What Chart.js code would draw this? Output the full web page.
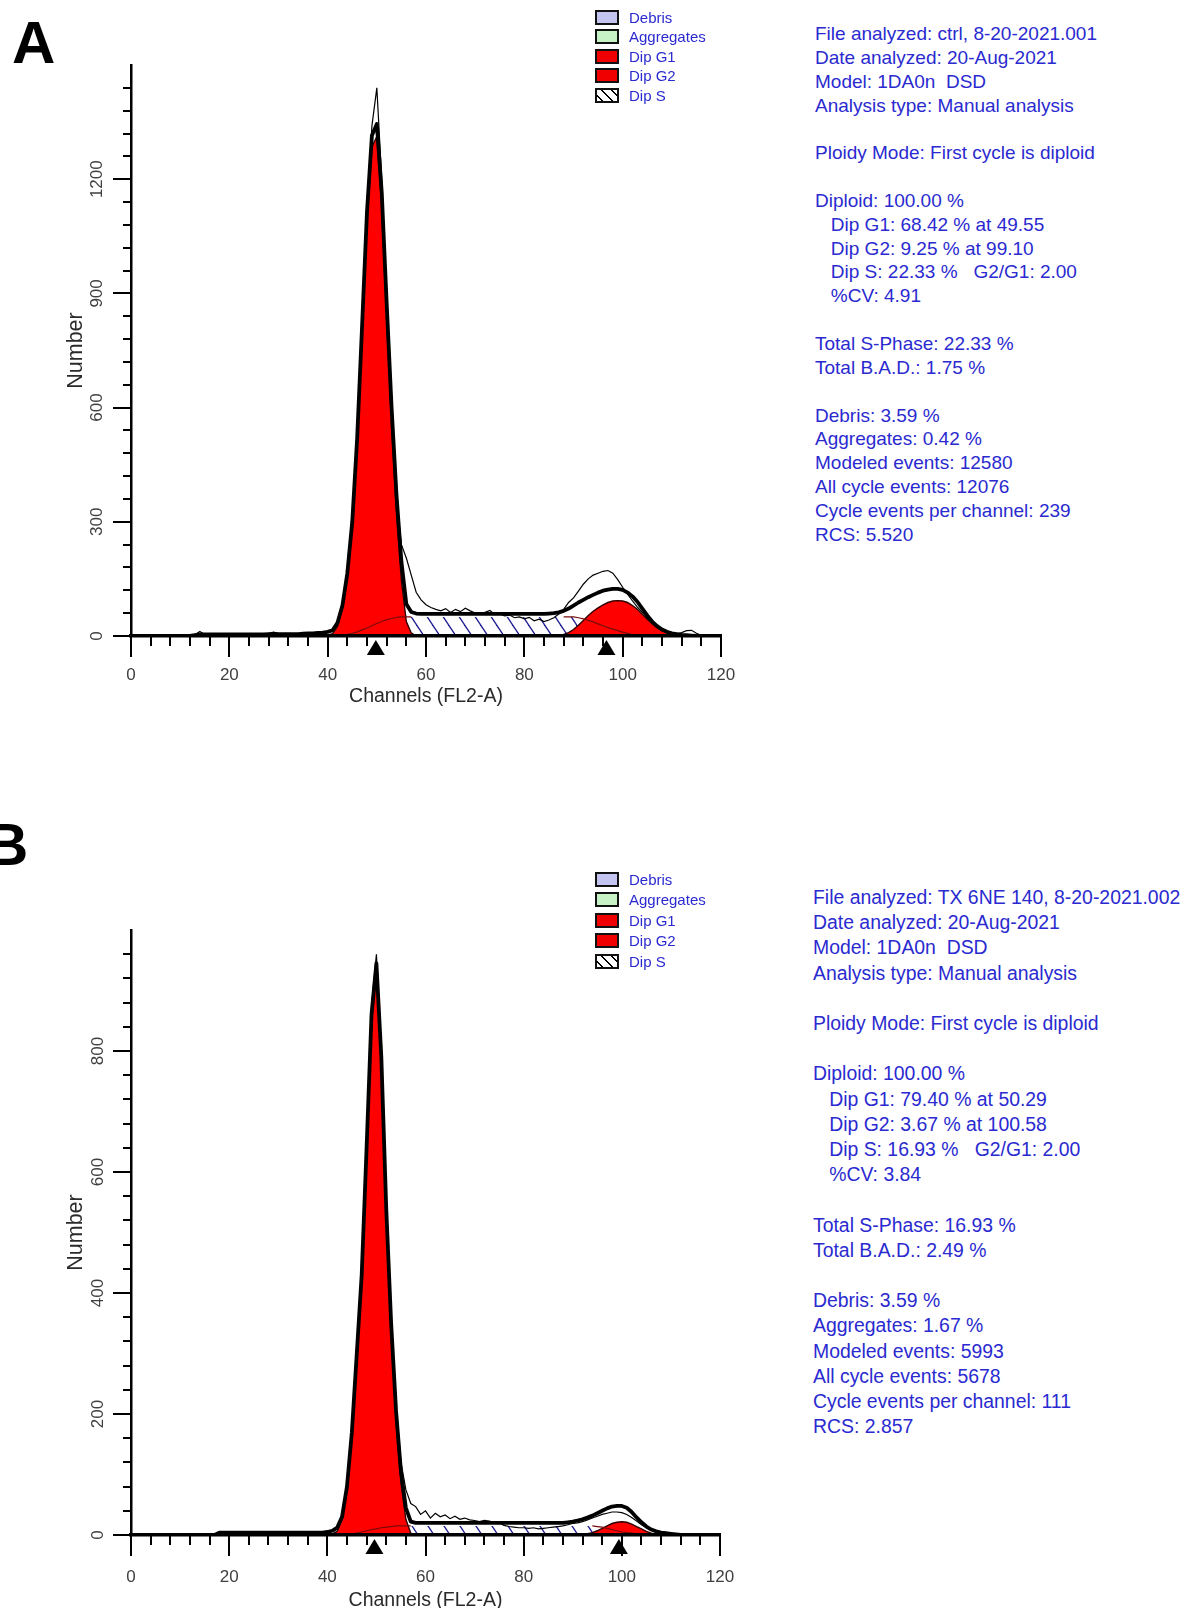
<!DOCTYPE html>
<html>
<head>
<meta charset="utf-8">
<script src="https://cdn.jsdelivr.net/npm/chart.js@4.4.1/dist/chart.umd.min.js"></script>
<style>
  html, body { margin: 0; padding: 0; background: #fff; }
  body { width: 1189px; height: 1608px; position: relative; overflow: hidden; font-family: "Liberation Sans", Arial, sans-serif; }
  .letter { position: absolute; font: bold 60px/60px "Liberation Sans", Arial, sans-serif; color: #000; }
  canvas { position: absolute; left: 0; }
  .legend { position: absolute; left: 595px; font-size: 15px; color: #2a2ad0; }
  .legend .row { display: flex; align-items: center; }
  .legend .sw { width: 24px; height: 15px; box-sizing: border-box; border: 2px solid #111; margin-right: 10px; }
  .stats { position: absolute; white-space: pre; color: #2a2ad0; }
</style>
</head>
<body>
<div class="letter" style="left:12px; top:13px;">A</div>
<div class="letter" style="left:-15px; top:815px;">B</div>

<canvas id="chartA" width="766" height="720" style="top:0px"></canvas>
<canvas id="chartB" width="768" height="780" style="top:860px"></canvas>

<div class="legend" style="top:7.7px;">
  <div class="row" style="height:19.5px"><div class="sw" style="background:#c4c4f0"></div>Debris</div>
  <div class="row" style="height:19.5px"><div class="sw" style="background:#c6f2c6"></div>Aggregates</div>
  <div class="row" style="height:19.5px"><div class="sw" style="background:#f00000"></div>Dip G1</div>
  <div class="row" style="height:19.5px"><div class="sw" style="background:#f00000"></div>Dip G2</div>
  <div class="row" style="height:19.5px"><div class="sw" style="background:repeating-linear-gradient(45deg,#fff 0 3px,#000 3px 4.5px,#fff 4.5px 7px)"></div>Dip S</div>
</div>
<div class="legend" style="top:869px;">
  <div class="row" style="height:20.5px"><div class="sw" style="background:#c4c4f0"></div>Debris</div>
  <div class="row" style="height:20.5px"><div class="sw" style="background:#c6f2c6"></div>Aggregates</div>
  <div class="row" style="height:20.5px"><div class="sw" style="background:#f00000"></div>Dip G1</div>
  <div class="row" style="height:20.5px"><div class="sw" style="background:#f00000"></div>Dip G2</div>
  <div class="row" style="height:20.5px"><div class="sw" style="background:repeating-linear-gradient(45deg,#fff 0 3px,#000 3px 4.5px,#fff 4.5px 7px)"></div>Dip S</div>
</div>

<div class="stats" style="left:815px; top:22px; font-size:19px; line-height:23.85px;">File analyzed: ctrl, 8-20-2021.001
Date analyzed: 20-Aug-2021
Model: 1DA0n  DSD
Analysis type: Manual analysis

Ploidy Mode: First cycle is diploid

Diploid: 100.00 %
   Dip G1: 68.42 % at 49.55
   Dip G2: 9.25 % at 99.10
   Dip S: 22.33 %   G2/G1: 2.00
   %CV: 4.91

Total S-Phase: 22.33 %
Total B.A.D.: 1.75 %

Debris: 3.59 %
Aggregates: 0.42 %
Modeled events: 12580
All cycle events: 12076
Cycle events per channel: 239
RCS: 5.520</div>

<div class="stats" style="left:813px; top:885px; font-size:19.4px; line-height:25.2px;">File analyzed: TX 6NE 140, 8-20-2021.002
Date analyzed: 20-Aug-2021
Model: 1DA0n  DSD
Analysis type: Manual analysis

Ploidy Mode: First cycle is diploid

Diploid: 100.00 %
   Dip G1: 79.40 % at 50.29
   Dip G2: 3.67 % at 100.58
   Dip S: 16.93 %   G2/G1: 2.00
   %CV: 3.84

Total S-Phase: 16.93 %
Total B.A.D.: 2.49 %

Debris: 3.59 %
Aggregates: 1.67 %
Modeled events: 5993
All cycle events: 5678
Cycle events per channel: 111
RCS: 2.857</div>

<script>
// ---- shared axis ticks ----
const xTicks = [0, 20, 40, 60, 80, 100, 120];

// ---- panel A (ctrl) : counts per channel, channel = index ----
const rawA = [
  0,0,0,0,0,0,0,0,0,0,
  0,0,0,3,12,4,2,2,2,3,
  2,2,3,2,2,3,2,3,4,10,
  3,3,4,4,5,8,8,9,9,10,
  12,16,38,88,175,300,510,805,1110,1340,
  1440,1200,890,590,360,240,205,160,115,95,
  82,75,70,66,72,62,70,64,73,66,
  60,57,62,67,56,58,53,55,48,50,
  45,49,40,44,38,42,48,58,70,88,
  100,118,136,150,160,165,170,172,165,148,
  128,110,92,76,62,48,34,24,16,10,
  7,6,9,14,15,7,2,0,0,0,
  0
];
const modelA = [
  0,0,0,0,0,0,0,0,0,0,
  0,0,0,2,4,4,4,4,4,4,
  4,4,4,4,4,4,4,4,5,6,
  5,5,5,5,5,6,7,7,8,9,
  11,15,35,80,165,300,520,815,1115,1315,
  1345,1165,875,600,370,195,84,63,59,58,
  58,58,58,58,58,58,58,58,58,58,
  58,58,58,58,58,58,58,58,58,58,
  58,58,58,58,58,59,60,62,66,72,
  80,88,95,102,108,114,119,122,124,124,
  121,114,104,90,72,54,38,26,17,11,
  7,5,3,2,1,0,0,0,0,0,
  0
];
const g1StartA = 40;
const dipG1A = [2,6,25,72,155,287,503,795,1090,1285,1312,1125,830,552,320,145,38,8,0];
const g2StartA = 86;
const dipG2A = [0,2,4,9,17,28,41,54,65,74,82,88,92,93,92,88,80,70,57,44,32,22,14,8,4,1,0];
const sStartA = 42;
const dipSA = [
  0,2,4,7,11,16,21,27,33,38,43,46,49,50,
  50,50,50,50,50,50,50,50,50,50,
  50,50,50,50,50,50,50,50,50,50,
  50,50,50,50,50,50,50,50,50,50,
  50,50,50,50,50,
  48,45,41,37,32,27,22,18,14,10,7,4,2,0
];
const markersA = [49.8, 96.7];
const yTicksA = [0, 300, 600, 900, 1200];

// ---- panel B (TX 6NE 140) ----
const rawB = [
  0,0,0,0,0,0,0,0,0,0,
  0,0,0,0,0,0,0,0,4,4,
  5,4,4,4,5,4,4,4,5,4,
  4,4,4,5,4,4,4,5,4,5,
  6,7,10,32,85,175,305,440,650,875,
  960,800,548,355,215,120,75,52,47,34,
  40,28,36,30,33,27,31,26,28,25,
  24,22,24,23,21,20,16,14,13,12,
  12,11,12,10,11,12,13,14,15,17,
  19,20,22,25,28,31,34,36,38,38,
  37,34,29,23,17,12,8,6,5,4,
  3,2,1,0,0,0,0,0,0,0,
  0
];
const modelB = [
  0,0,0,0,0,0,0,0,0,0,
  0,0,0,0,0,0,0,0,4,4,
  4,4,4,4,4,4,4,4,4,4,
  4,4,4,4,4,4,4,4,4,4,
  5,7,12,30,80,170,300,430,640,860,
  945,790,540,350,205,105,45,22,20,20,
  20,20,20,20,20,20,20,20,20,20,
  20,20,20,20,20,20,20,20,20,20,
  20,20,20,20,20,20,20,20,20,21,
  22,24,26,29,32,36,40,44,47,48,
  48,45,38,29,21,14,9,6,4,3,
  2,1,0,0,0,0,0,0,0,0,
  0
];
const g1StartB = 40;
const dipG1B = [0,2,6,26,75,164,293,421,629,847,931,774,523,332,186,86,26,3,0];
const g2StartB = 92;
const dipG2B = [0,2,4,7,11,15,19,21,22,21,18,14,10,6,3,1,0];
const sStartB = 43;
const dipSB = [
  0,1,2,3,5,7,9,10,12,13,14,
  15,15,15,15,15,15,15,15,15,15,
  15,15,15,15,15,15,15,15,15,15,
  15,15,15,15,15,15,15,15,15,15,
  15,15,15,15,15,15,15,15,15,15,
  15,
  14,13,11,9,7,5,4,3,2,1,0
];
const markersB = [49.6, 99.4];
const yTicksB = [0, 200, 400, 600, 800];

const FONT = '"Liberation Sans", Arial, sans-serif';

function hatchPattern() {
  const w = 16, h = 24;
  const c = document.createElement('canvas');
  c.width = w; c.height = h;
  const g = c.getContext('2d');
  g.strokeStyle = '#1c1c8e';
  g.lineWidth = 1.3;
  [-w, 0, w].forEach(off => {
    g.beginPath();
    g.moveTo(off - w * 0.2, -h * 0.2);
    g.lineTo(off + w * 1.2, h * 1.2);
    g.stroke();
  });
  return g.createPattern(c, 'repeat');
}

// tick marks (major/minor) and the peak markers under the axis
function axisMarks(cfg) {
  return {
    id: 'axisMarks',
    afterDraw(chart) {
      const {ctx, chartArea: a, scales: {x, y}} = chart;
      ctx.save();
      ctx.strokeStyle = '#000';
      ctx.lineWidth = 2;
      ctx.beginPath();
      for (let v = 0; v <= 120; v += 4) {
        const px = Math.round(x.getPixelForValue(v));
        const len = v % 20 === 0 ? 21 : 10;
        ctx.moveTo(px, a.bottom);
        ctx.lineTo(px, a.bottom + len);
      }
      for (let v = 0; v < cfg.yMax; v += cfg.yMinor) {
        const py = Math.round(y.getPixelForValue(v));
        const len = v % cfg.yMajor === 0 ? 18 : 8;
        ctx.moveTo(a.left - len, py);
        ctx.lineTo(a.left, py);
      }
      ctx.stroke();
      ctx.fillStyle = '#000';
      cfg.markers.forEach(m => {
        const px = x.getPixelForValue(m);
        ctx.beginPath();
        ctx.moveTo(px, a.bottom + 4);
        ctx.lineTo(px - 9, a.bottom + 19);
        ctx.lineTo(px + 9, a.bottom + 19);
        ctx.closePath();
        ctx.fill();
      });
      ctx.restore();
    }
  };
}

function drawPanel(id, p) {
  const pts = (start, arr) => arr.map((v, i) => ({x: start + i, y: v}));
  const hatch = hatchPattern();
  const g1End = p.g1Start + p.dipG1.length - 1;
  new Chart(document.getElementById(id), {
    type: 'line',
    data: {
      datasets: [
        {label: 'Data', data: pts(0, p.raw), borderColor: '#000', borderWidth: 1.2,
         pointRadius: 0, fill: false, tension: 0, order: 0},
        {label: 'Model', data: pts(0, p.model), borderColor: '#000', borderWidth: 3.8,
         borderJoinStyle: 'round', pointRadius: 0, fill: false, order: 1},
        {label: 'Dip S edge', data: pts(p.sStart, p.dipS), borderWidth: 1.2, pointRadius: 0, fill: false, order: 2,
         borderColor: '#7a0a0a',
         segment: {borderColor: c => (c.p0.parsed.x >= g1End - 1 && c.p1.parsed.x <= p.g2Start + 2) ? 'rgba(0,0,0,0)' : '#7a0a0a'}},
        {label: 'Dip G1', data: pts(p.g1Start, p.dipG1), borderColor: '#300000', borderWidth: 1.4,
         backgroundColor: '#ff0000', fill: 'origin', pointRadius: 0, order: 3},
        {label: 'Dip G2', data: pts(p.g2Start, p.dipG2), borderColor: '#300000', borderWidth: 1.4,
         backgroundColor: '#ff0000', fill: 'origin', pointRadius: 0, order: 3},
        {label: 'Dip S', data: pts(p.sStart, p.dipS), borderColor: 'rgba(0,0,0,0)', borderWidth: 0,
         backgroundColor: hatch, fill: 'origin', pointRadius: 0, order: 4}
      ]
    },
    options: {
      responsive: false,
      animation: false,
      events: [],
      layout: {padding: p.pad},
      plugins: {legend: {display: false}, tooltip: {enabled: false}},
      scales: {
        x: {
          type: 'linear', min: 0, max: 120,
          afterFit: s => { s.height = p.xAxisHeight; },
          afterBuildTicks: s => { s.ticks = xTicks.map(v => ({value: v})); },
          grid: {display: false, drawTicks: false},
          border: {color: '#000', width: 3.5, z: 1},
          ticks: {padding: p.xLabelPad, color: '#404040', font: {size: 17, family: FONT},
                  maxRotation: 0, callback: v => String(v)},
          title: {display: true, text: 'Channels (FL2-A)', color: '#2a2a2a',
                  font: {size: 19.5, family: FONT}, padding: {top: 0, bottom: 3}}
        },
        y: {
          min: 0, max: p.yMax,
          afterFit: s => { s.width = 70; },
          afterBuildTicks: s => { s.ticks = p.yTicks.map(v => ({value: v})); },
          grid: {display: false, drawTicks: false},
          border: {color: '#000', width: 2.5, z: 1},
          ticks: {minRotation: 90, maxRotation: 90, crossAlign: 'center', padding: p.yLabelPad,
                  color: '#404040', font: {size: 17, family: FONT}, callback: v => String(v)},
          title: {display: true, text: 'Number', color: '#2a2a2a',
                  font: {size: 21.5, family: FONT}, padding: {top: 2.5, bottom: 0}}
        }
      }
    },
    plugins: [axisMarks({yMax: p.yMax, yMinor: p.yMinor, yMajor: p.yMajor, markers: p.markers})]
  });
}

drawPanel('chartA', {
  raw: rawA, model: modelA,
  g1Start: g1StartA, dipG1: dipG1A, g2Start: g2StartA, dipG2: dipG2A, sStart: sStartA, dipS: dipSA,
  markers: markersA, yTicks: yTicksA, yMax: 1500, yMinor: 60, yMajor: 300,
  pad: {left: 61, top: 65, right: 45, bottom: 9}, xAxisHeight: 75, xLabelPad: 29.4, yLabelPad: 15
});

drawPanel('chartB', {
  raw: rawB, model: modelB,
  g1Start: g1StartB, dipG1: dipG1B, g2Start: g2StartB, dipG2: dipG2B, sStart: sStartB, dipS: dipSB,
  markers: markersB, yTicks: yTicksB, yMax: 1000, yMinor: 40, yMajor: 200,
  pad: {left: 61, top: 70, right: 48, bottom: 25}, xAxisHeight: 80, xLabelPad: 32.4, yLabelPad: 19
});
</script>
</body>
</html>
